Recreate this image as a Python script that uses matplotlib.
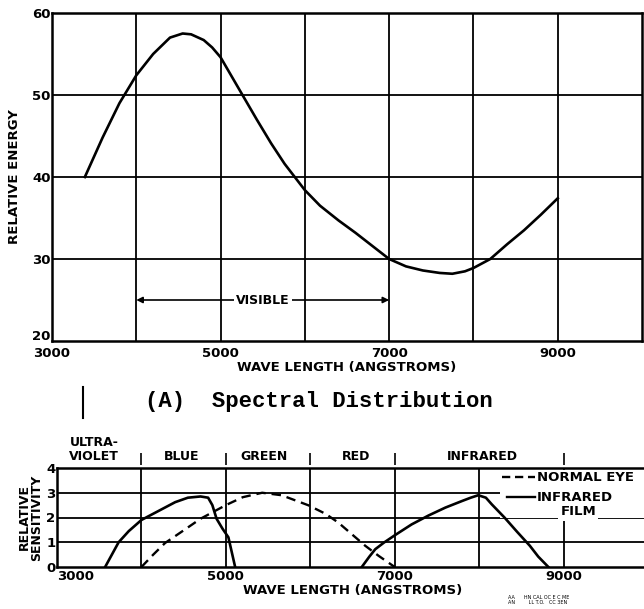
import numpy as np
import matplotlib.pyplot as plt
import matplotlib.transforms as mtransforms
from matplotlib.lines import Line2D
from matplotlib.patches import Rectangle

# (A) spectral distribution
wave_a = [3390, 3600, 3800, 4000, 4200, 4400, 4550, 4650, 4800, 4900, 5000, 5130,
          5260, 5430, 5600, 5760, 5880, 6000, 6180, 6400, 6600, 6800, 7000, 7200,
          7400, 7600, 7750, 7900, 8000, 8200, 8400, 8600, 8800, 9000]
energy_a = [40.0, 44.8, 49.0, 52.4, 55.0, 57.0, 57.5, 57.4, 56.7, 55.8, 54.6, 52.3,
            50.0, 47.0, 44.1, 41.6, 40.0, 38.4, 36.5, 34.7, 33.2, 31.6, 30.0, 29.1,
            28.6, 28.3, 28.2, 28.5, 28.9, 30.0, 31.8, 33.5, 35.4, 37.4]

# relative sensitivity
eye_wave = [4000, 4140, 4280, 4500, 4700, 5000, 5200, 5430, 5660, 5980, 6180,
            6330, 6490, 6650, 6810, 7000]
eye_sens = [0, 0.5, 0.97, 1.48, 1.95, 2.5, 2.82, 3.0, 2.9, 2.49, 2.15,
            1.8, 1.33, 0.86, 0.45, 0]

film_uv_wave = [3570, 3650, 3730, 3850, 4000, 4200, 4400, 4550, 4700, 4790,
                4840, 4890, 4960, 5030, 5070, 5110]
film_uv_sens = [0, 0.5, 1.0, 1.45, 1.9, 2.26, 2.62, 2.8, 2.85, 2.8,
                2.5, 1.95, 1.55, 1.2, 0.6, 0]
film_ir_wave = [6610, 6700, 6770, 6870, 7000, 7200, 7400, 7600, 7800, 7900,
                7990, 8080, 8150, 8300, 8450, 8600, 8700, 8820]
film_ir_sens = [0, 0.42, 0.72, 0.98, 1.28, 1.72, 2.08, 2.4, 2.67, 2.8,
                2.9, 2.8, 2.53, 2.0, 1.42, 0.86, 0.42, 0]

bands = ['ULTRA-\nVIOLET', 'BLUE', 'GREEN', 'RED', 'INFRARED']
band_pos = [3440, 4480, 5450, 6540, 8035]
band_edges = [4000, 5000, 6000, 7000, 9000]

plt.rcParams['font.family'] = 'DejaVu Sans'
plt.rcParams['font.weight'] = 'bold'
plt.rcParams['axes.labelweight'] = 'bold'

W, H = 644, 609
fig = plt.figure(figsize=(W / 100, H / 100), dpi=100)

# ---------------- top chart
ax1 = fig.add_axes([52 / W, 1 - 341 / H, 590 / W, 328 / H])
ax1.set_xlim(3000, 10000)
ax1.set_ylim(20, 60)
for x in range(4000, 10000, 1000):
    ax1.axvline(x, color='k', lw=1.3, zorder=1)
for y in (30, 40, 50):
    ax1.axhline(y, color='k', lw=1.3, zorder=1)
ax1.plot(wave_a, energy_a, color='k', lw=1.9, zorder=3)
ax1.set_xticks([3000, 5000, 7000, 9000])
ax1.set_yticks([20, 30, 40, 50, 60])
ax1.tick_params(length=0, labelsize=9.5)
ax1.tick_params(axis='x', pad=4)
ax1.tick_params(axis='y', pad=1)
# the "20" sits a little above the corner in the original
lab20 = ax1.get_yticklabels()[0]
lab20.set_transform(lab20.get_transform() +
                    mtransforms.ScaledTranslation(0, 4 / 72, fig.dpi_scale_trans))
for s in ax1.spines.values():
    s.set_linewidth(1.8)
ax1.set_xlabel('WAVE LENGTH (ANGSTROMS)', fontsize=9.5, labelpad=1)
ax1.set_ylabel('RELATIVE ENERGY', fontsize=9.5, labelpad=8)

# visible band
for end in (4000, 7000):
    ax1.annotate('', xy=(end, 25), xytext=(5500, 25),
                 arrowprops=dict(arrowstyle='-|>', color='k', lw=1.2,
                                 mutation_scale=9, shrinkA=0, shrinkB=0))
ax1.text(5500, 25, 'VISIBLE', fontsize=9, ha='center', va='center', zorder=4,
         bbox=dict(fc='white', ec='none', pad=1.5))

fig.text(145 / W, 1 - 401 / H, '(A)  Spectral Distribution', family='Liberation Mono',
         fontsize=16, weight='bold', va='center', ha='left')
fig.add_artist(Line2D([83 / W, 83 / W], [1 - 387 / H, 1 - 418 / H], color='k', lw=1.5))

# ---------------- bottom chart
ax2 = fig.add_axes([57 / W, 1 - 567 / H, 591 / W, 99 / H])
ax2.set_xlim(3000, 10000)
ax2.set_ylim(0, 4)
for x in range(4000, 10000, 1000):
    ax2.axvline(x, color='k', lw=1.3, zorder=1)
for y in (1, 2, 3):
    ax2.axhline(y, color='k', lw=1.3, zorder=1)
ax2.plot(eye_wave, eye_sens, color='k', lw=1.7, ls=(0, (4, 2.5)), zorder=3)
ax2.plot(film_uv_wave, film_uv_sens, color='k', lw=1.9, zorder=3)
ax2.plot(film_ir_wave, film_ir_sens, color='k', lw=1.9, zorder=3)
ax2.set_xticks([3000, 5000, 7000, 9000])
ax2.set_yticks([0, 1, 2, 3, 4])
ax2.tick_params(length=0, labelsize=9.5)
ax2.tick_params(axis='x', pad=2)
ax2.tick_params(axis='y', pad=1)
ax2.get_xticklabels()[0].set_horizontalalignment('left')
ax2.spines['right'].set_visible(False)
for s in ('left', 'top', 'bottom'):
    ax2.spines[s].set_linewidth(1.8)
ax2.set_xlabel('WAVE LENGTH (ANGSTROMS)', fontsize=9.5, labelpad=1)
ax2.set_ylabel('RELATIVE\nSENSITIVITY', fontsize=9, linespacing=0.95, labelpad=2)

tr = ax2.get_xaxis_transform()
ax2.vlines(band_edges, 1.03, 1.15, transform=tr, color='k', lw=1.2, clip_on=False)
for name, xp in zip(bands, band_pos):
    ax2.text(xp, 1.05, name, transform=tr, ha='center', va='bottom', fontsize=9,
             linespacing=1.15)

# key, drawn by hand on a white patch as in the original
ax2.add_patch(Rectangle((0.75, 0.50), 0.25, 0.48, transform=ax2.transAxes,
                        fc='white', ec='none', zorder=2))
ax2.plot([0.753, 0.809], [0.909, 0.909], transform=ax2.transAxes, color='k',
         lw=1.7, ls=(0, (3.5, 2)), zorder=4, clip_on=False)
ax2.plot([0.761, 0.809], [0.707, 0.707], transform=ax2.transAxes, color='k',
         lw=1.7, zorder=4, clip_on=False)
ax2.text(0.812, 0.909, 'NORMAL EYE', transform=ax2.transAxes, fontsize=9.5,
         ha='left', va='center', zorder=4)
ax2.text(0.812, 0.707, 'INFRARED', transform=ax2.transAxes, fontsize=9.5,
         ha='left', va='center', zorder=4)
ax2.text(0.882, 0.556, 'FILM', transform=ax2.transAxes, fontsize=9.5,
         ha='center', va='center', zorder=4,
         bbox=dict(fc='white', ec='none', pad=1.5))

fig.text(508 / W, 1 - 600 / H, 'AA      HN CAL OC E C ME\nAN         LL T.O.   CC 3EN',
         fontsize=3.5, weight='normal', va='center', ha='left')

fig.savefig('out.png', dpi=100)
